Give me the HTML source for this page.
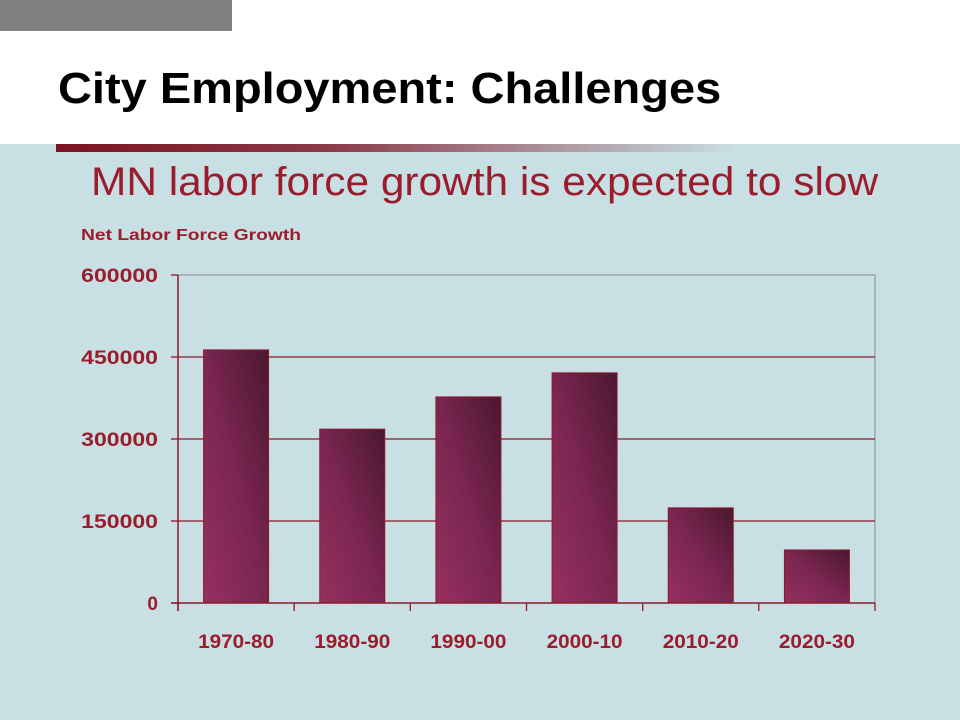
<!DOCTYPE html>
<html><head><meta charset="utf-8"><style>
body{margin:0;width:960px;height:720px;overflow:hidden;font-family:"Liberation Sans",sans-serif;}
#slide{position:relative;width:960px;height:720px;background:#c8dfe3;}
</style></head><body>
<div id="slide">
<div style="position:absolute;left:0;top:0;width:960px;height:144px;background:#fff"></div>
<div style="position:absolute;left:0;top:0;width:232px;height:31px;background:#808080"></div>
<div style="position:absolute;left:58px;top:64px;font-size:44px;font-weight:bold;color:#000;white-space:nowrap;transform:scaleX(1.068);transform-origin:left top">City Employment: Challenges</div>
<div style="position:absolute;left:56px;top:144px;width:680px;height:8px;background:linear-gradient(to right,#7a1420,#8a3a48 40%,#c8dfe3)"></div>
<div style="position:absolute;left:91px;top:160px;font-size:40px;color:#9b1c2c;white-space:nowrap;transform:scaleX(1.06);transform-origin:left top">MN labor force growth is expected to slow</div>
<svg id="chart" width="960" height="720" style="position:absolute;left:0;top:0">
<defs><linearGradient id="bg" x1="0" y1="1" x2="1" y2="0"><stop offset="0" stop-color="#96305f"/><stop offset="0.5" stop-color="#7a2650"/><stop offset="1" stop-color="#4a1830"/></linearGradient></defs>
<text x="81" y="240" font-size="16" font-weight="bold" fill="#9b1c2c" font-family="Liberation Sans" textLength="220" lengthAdjust="spacingAndGlyphs">Net Labor Force Growth</text>
</svg>
</div>
<script>
const categories=["1970-80","1980-90","1990-00","2000-10","2010-20","2020-30"];
const values=[463000,318000,377000,421000,174000,97000];
const yTicks=[0,150000,300000,450000,600000];
const svg=document.getElementById('chart');
const NS='http://www.w3.org/2000/svg';
const x0=178,x1=875,yb=603,yt=275,ymax=600000;
const y=v=>yb-(v/ymax)*(yb-yt);
const cw=(x1-x0)/categories.length;
function mk(t,a){const e=document.createElementNS(NS,t);for(const k in a)e.setAttribute(k,a[k]);svg.appendChild(e);return e;}
mk('line',{x1:x0,y1:yt,x2:x1,y2:yt,stroke:'#888','stroke-width':1});
mk('line',{x1:x1,y1:yt,x2:x1,y2:yb,stroke:'#888','stroke-width':1});
yTicks.forEach(t=>{
 if(t>0&&t<ymax){const g=mk('line',{x1:x0,y1:y(t),x2:x1,y2:y(t),stroke:'#8b1a2b','stroke-width':1.3});
 
 }
 mk('line',{x1:x0-7,y1:y(t),x2:x0,y2:y(t),stroke:'#8b1a2b','stroke-width':1.3});
 const s=String(t);
 const a={x:158,y:y(t)+7,'text-anchor':'end','font-size':19,'font-weight':'bold',fill:'#9b1c2c','font-family':'Liberation Sans'};
 if(s.length>1){a.textLength=s.length*12.8;a.lengthAdjust='spacingAndGlyphs';}
 const l=mk('text',a);
 l.textContent=s;
 
 
});
values.forEach((v,i)=>{
 const cx=x0+cw*(i+0.5);
 const b=mk('rect',{x:cx-32.5,y:y(v),width:65,height:yb-y(v),fill:'url(#bg)',stroke:'#8b1a2b','stroke-width':1});
 
 
 const l=mk('text',{x:cx,y:648,'text-anchor':'middle','font-size':19,'font-weight':'bold',fill:'#9b1c2c','font-family':'Liberation Sans',textLength:76,lengthAdjust:'spacingAndGlyphs'});
 l.textContent=categories[i];
 
 
});
for(let i=0;i<=categories.length;i++){mk('line',{x1:x0+cw*i,y1:yb,x2:x0+cw*i,y2:yb+8,stroke:'#8b1a2b','stroke-width':1.3});}
mk('line',{x1:x0,y1:yt,x2:x0,y2:yb+8,stroke:'#8b1a2b','stroke-width':1.5});
mk('line',{x1:x0-7,y1:yb,x2:x1,y2:yb,stroke:'#8b1a2b','stroke-width':1.5});
</script>
</body></html>
